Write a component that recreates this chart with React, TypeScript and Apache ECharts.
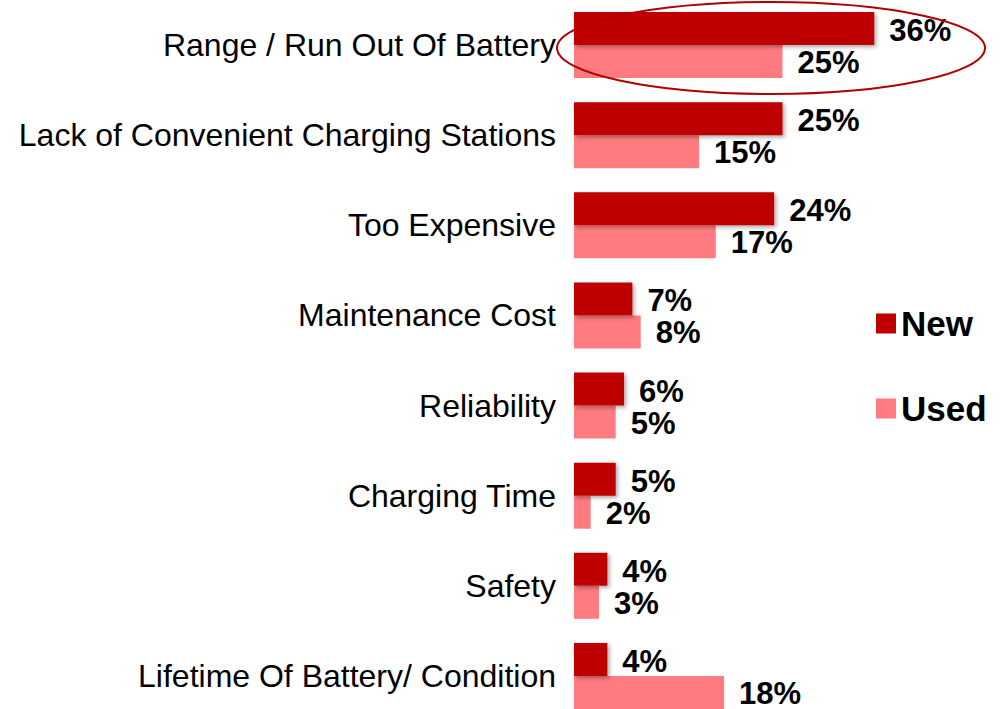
import React, { useEffect, useRef } from "react";
import * as echarts from "echarts";

const categories = [
  "Range / Run Out Of Battery",
  "Lack of Convenient Charging Stations",
  "Too Expensive",
  "Maintenance Cost",
  "Reliability",
  "Charging Time",
  "Safety",
  "Lifetime Of Battery/ Condition",
];
const newValues = [36, 25, 24, 7, 6, 5, 4, 4];
const usedValues = [25, 15, 17, 8, 5, 2, 3, 18];

const FONT = "'Liberation Sans', Arial, Helvetica, sans-serif";

export default function App() {
  const ref = useRef<HTMLDivElement>(null);
  useEffect(() => {
    if (!ref.current) return;
    const chart = echarts.init(ref.current, null, { renderer: "svg" });
    const labelStyle = (dy: number) => ({
      show: true,
      position: "right" as const,
      distance: 15,
      offset: [0, dy],
      formatter: "{c}%",
      fontFamily: FONT,
      fontWeight: "bold" as const,
      fontSize: 31,
      lineHeight: 26,
      color: "#000",
    });
    const shadow = {
      shadowColor: "rgba(0,0,0,0.35)",
      shadowBlur: 4,
      shadowOffsetX: 2,
      shadowOffsetY: 2,
    };
    chart.setOption({
      animation: false,
      backgroundColor: "#fff",
      grid: { left: 574, top: 0, width: 417, height: 721, containLabel: false },
      xAxis: { type: "value", min: 0, max: 50, show: false },
      yAxis: {
        type: "category",
        data: categories,
        inverse: true,
        axisLine: { show: false },
        axisTick: { show: false },
        axisLabel: {
          fontFamily: FONT,
          fontSize: 32,
          color: "#000",
          margin: 18,
          padding: [7, 0, 0, 0],
        },
      },
      legend: {
        orient: "vertical",
        left: 871,
        top: 301,
        itemWidth: 20,
        itemHeight: 20,
        itemGap: 50,
        icon: "rect",
        textStyle: { fontFamily: FONT, fontSize: 35, fontWeight: "bold", color: "#000" },
        data: ["New", "Used"],
      },
      series: [
        {
          name: "New",
          type: "bar",
          data: newValues,
          barWidth: 33,
          barGap: "0%",
          itemStyle: { color: "#BE0000", ...shadow },
          label: labelStyle(2),
          z: 3,
        },
        {
          name: "Used",
          type: "bar",
          data: usedValues,
          barWidth: 33,
          barGap: "0%",
          itemStyle: { color: "#FF7B80" },
          label: labelStyle(1),
          z: 2,
        },
      ],
      graphic: [
        {
          type: "ellipse",
          shape: { cx: 771, cy: 48, rx: 214, ry: 46 },
          style: { fill: "none", stroke: "#B00000", lineWidth: 2 },
          z: 10,
        },
      ],
    });
    return () => chart.dispose();
  }, []);
  return (
    <div
      style={{
        position: "fixed",
        left: 0,
        top: 0,
        width: 1003,
        height: 709,
        overflow: "hidden",
        background: "#fff",
      }}
    >
      <div ref={ref} style={{ width: 1003, height: 730 }} />
    </div>
  );
}
